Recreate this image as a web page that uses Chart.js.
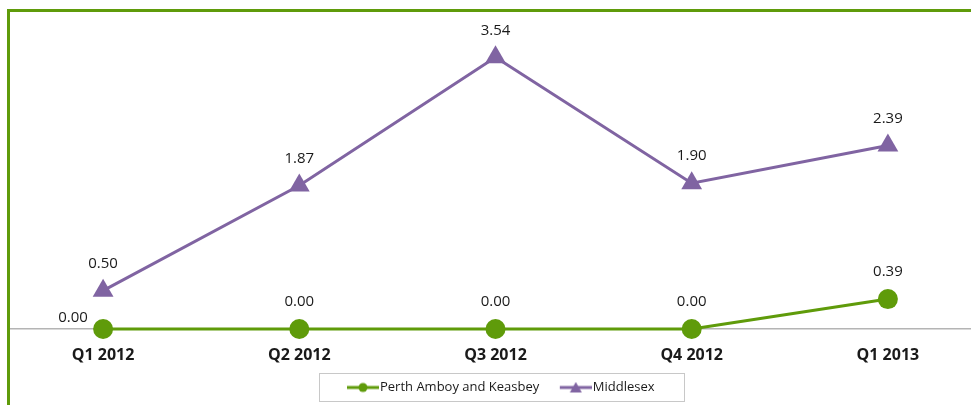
<!DOCTYPE html>
<html>
<head>
<meta charset="utf-8">
<script src="https://cdn.jsdelivr.net/npm/chart.js@4.4.1/dist/chart.umd.min.js"></script>
<style>
  html, body { margin: 0; padding: 0; background: #fff; overflow: hidden; }
  #wrap { position: absolute; left: 0; top: 0; width: 990px; height: 405px; }
  #frame { position: absolute; left: 7px; top: 9px; width: 2000px; height: 1000px;
           border-left: 3px solid #5f9b0a; border-top: 3px solid #5f9b0a; pointer-events: none;
           box-shadow: -7px 0 0 #fff; }
</style>
</head>
<body>
<div id="wrap"><canvas id="myChart"></canvas></div>
<div id="frame"></div>
<script>

// chart data
var quarters = ['Q1 2012', 'Q2 2012', 'Q3 2012', 'Q4 2012', 'Q1 2013'];
var seriesNames = ['Perth Amboy and Keasbey', 'Middlesex'];
var perthAmboy = [0.00, 0.00, 0.00, 0.00, 0.39];
var middlesex = [0.50, 1.87, 3.54, 1.90, 2.39];

var green = '#5f9b0a';
var purple = '#8064a2';
var font = "'Open Sans', 'Noto Sans', sans-serif";

// little line+marker images for the legend (blank space on the left acts as gap)
function legendMark(color, style){
	var c = document.createElement('canvas');
	c.width = 48; c.height = 12;
	var g = c.getContext('2d');
	g.strokeStyle = color; g.fillStyle = color; g.lineWidth = 3;
	g.beginPath(); g.moveTo(16, 6); g.lineTo(48, 6); g.stroke();
	g.beginPath();
	if(style == 'circle'){
		g.arc(32, 6, 4.5, 0, Math.PI*2);
	} else {
		g.moveTo(32, 0.5); g.lineTo(38, 11); g.lineTo(26, 11); g.closePath();
	}
	g.fill();
	return c;
}
var marks = [legendMark(green, 'circle'), legendMark(purple, 'triangle')];

// value labels above every point
var valueLabels = {
	id: 'valueLabels',
	afterDatasetsDraw(chart){
		const ctx = chart.ctx;
		ctx.save();
		ctx.font = '15px ' + font;
		ctx.fillStyle = '#1a1a1a';
		ctx.textAlign = 'center';
		ctx.textBaseline = 'middle';
		chart.data.datasets.forEach(function(ds, di){
			const meta = chart.getDatasetMeta(di);
			meta.data.forEach(function(pt, i){
				let x = pt.x, y = pt.y - 27;
				// if another series sits just above, put the label to the left
				chart.data.datasets.forEach(function(o, oi){
					if(oi == di) return;
					const op = chart.getDatasetMeta(oi).data[i];
					if(op.y < pt.y && pt.y - op.y < 45){ x = pt.x - 30; y = pt.y - 11; }
				});
				ctx.fillText(Number(ds.data[i]).toFixed(2), x, y);
			});
		});
		ctx.restore();
	}
};

// grey box round the legend
var legendBox = {
	id: 'legendBox',
	afterDraw(chart){
		const lg = chart.legend;
		if(!lg || !lg.legendHitBoxes.length) return;
		const hb = lg.legendHitBoxes;
		const l = hb[0].left - 17, r = hb[hb.length-1].left + hb[hb.length-1].width + 30;
		const t = hb[0].top - 8, h = hb[0].height + 15;
		const ctx = chart.ctx;
		ctx.save();
		ctx.strokeStyle = '#c8c8c8';
		ctx.lineWidth = 1;
		ctx.strokeRect(Math.round(l)+0.5, Math.round(t)+0.5, Math.round(r-l), Math.round(h));
		ctx.restore();
	}
};

const ctx = document.getElementById('myChart').getContext('2d');
const chart = new Chart(ctx, {
	type: 'line',
	data: {
		labels: quarters,
		datasets: [{
			label: seriesNames[0],
			data: perthAmboy,
			borderColor: green,
			backgroundColor: green,
			borderWidth: 3,
			pointStyle: 'circle',
			pointRadius: 10,
			pointHoverRadius: 10,
			pointBorderWidth: 0,
			clip: false
		}, {
			label: seriesNames[1],
			data: middlesex,
			borderColor: purple,
			backgroundColor: purple,
			borderWidth: 3,
			pointStyle: 'triangle',
			pointRadius: 12,
			pointHoverRadius: 12,
			pointBorderWidth: 0,
			clip: false
		}]
	},
	options: {
		responsive: true,
		maintainAspectRatio: false,
		animation: false,
		layout: { autoPadding: false, padding: { left: 5, right: 4, top: 22, bottom: 1 } },
		scales: {
			x: {
				offset: true,
				grid: { drawOnChartArea: false, drawTicks: false },
				border: { display: true, color: '#b4b4b4', width: 1.5 },
				ticks: { padding: 17, color: '#1a1a1a', font: { family: font, size: 16, weight: 'bold' }, maxRotation: 0 },
				afterFit(scale){ scale.height = 42; }
			},
			y: { display: false, min: 0, max: 4 }
		},
		plugins: {
			tooltip: { enabled: false },
			legend: {
				position: 'bottom',
				labels: {
					usePointStyle: true,
					pointStyleWidth: 37,
					padding: 10,
					color: '#1a1a1a',
					font: { family: font, size: 13 },
					generateLabels(chart){
						return chart.data.datasets.map(function(ds, i){
							return { text: ds.label, pointStyle: marks[i], fillStyle: ds.borderColor,
								strokeStyle: ds.borderColor, lineWidth: 0, hidden: false, datasetIndex: i, fontColor: '#1a1a1a' };
						});
					}
				}
			}
		}
	},
	plugins: [valueLabels, legendBox]
});

</script>
</body>
</html>
